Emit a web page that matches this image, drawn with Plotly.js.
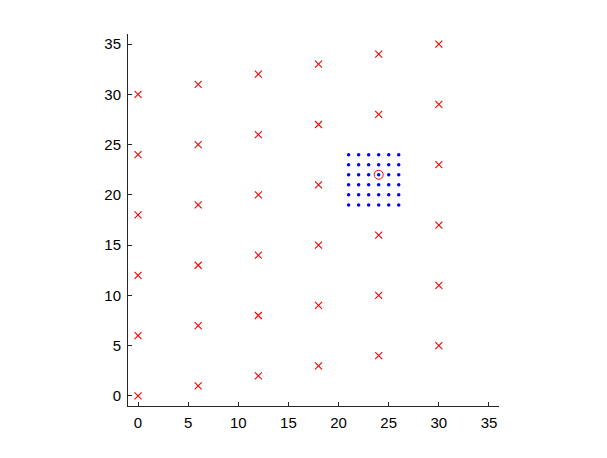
<!DOCTYPE html>
<html>
<head>
<meta charset="utf-8">
<script src="https://cdn.plot.ly/plotly-3.0.1.min.js"></script>
<style>
  html, body { margin: 0; padding: 0; background: #fff; }
  #plot { width: 607px; height: 458px; }
</style>
</head>
<body>
<div id="plot"></div>
<script>
/** data **/
// red crosses
let cross_x = [0, 0, 0, 0, 0, 0,
               6, 6, 6, 6, 6, 6,
               12, 12, 12, 12, 12, 12,
               18, 18, 18, 18, 18, 18,
               24, 24, 24, 24, 24,
               30, 30, 30, 30, 30, 30];
let cross_y = [0, 6, 12, 18, 24, 30,
               1, 7, 13, 19, 25, 31,
               2, 8, 14, 20, 26, 32,
               3, 9, 15, 21, 27, 33,
               4, 10, 16, 28, 34,
               5, 11, 17, 23, 29, 35];

// blue grid points
let grid_x = [21, 22, 23, 24, 25, 26, 21, 22, 23, 24, 25, 26,
              21, 22, 23, 24, 25, 26, 21, 22, 23, 24, 25, 26,
              21, 22, 23, 24, 25, 26, 21, 22, 23, 24, 25, 26];
let grid_y = [19, 19, 19, 19, 19, 19, 20, 20, 20, 20, 20, 20,
              21, 21, 21, 21, 21, 21, 22, 22, 22, 22, 22, 22,
              23, 23, 23, 23, 23, 23, 24, 24, 24, 24, 24, 24];

// circled point
let ring_x = [24];
let ring_y = [22];

let tick_vals = [0, 5, 10, 15, 20, 25, 30, 35];

/* traces */
let trace_cross = {
    x: cross_x, y: cross_y,
    type: "scatter", mode: "markers",
    marker: {symbol: "x-thin-open", size: 7, color: "rgb(255,0,0)", opacity: 1,
             line: {width: 1.1, color: "rgb(255,0,0)"}}
};

let trace_grid = {
    x: grid_x, y: grid_y,
    type: "scatter", mode: "markers",
    marker: {symbol: "circle", size: 3.5, color: "#0000ff", line: {width: 0}}
};

let trace_ring = {
    x: ring_x, y: ring_y,
    type: "scatter", mode: "markers",
    marker: {symbol: "circle-open", size: 9, color: "#ff0000", line: {width: 1, color: "#ff0000"}}
};

/* layout */
let axis_common = {
    range: [-1, 36],
    tickvals: tick_vals,
    ticks: "inside",
    ticklen: 4,
    tickwidth: 1,
    tickcolor: "#262626",
    showline: true,
    linecolor: "#262626",
    linewidth: 1,
    showgrid: false,
    zeroline: false,
    ticklabelstandoff: 3,
    tickfont: {family: "Liberation Sans, Arial, sans-serif", size: 15, color: "#000"}
};

let layout = {
    width: 607,
    height: 458,
    margin: {l: 128, r: 108, t: 34, b: 52},
    paper_bgcolor: "#ffffff",
    plot_bgcolor: "#ffffff",
    showlegend: false,
    hovermode: false,
    dragmode: false,
    xaxis: Object.assign({}, axis_common),
    yaxis: Object.assign({}, axis_common)
};

Plotly.newPlot('plot', [trace_cross, trace_grid, trace_ring], layout, {displayModeBar: false, staticPlot: true});
</script>
</body>
</html>
